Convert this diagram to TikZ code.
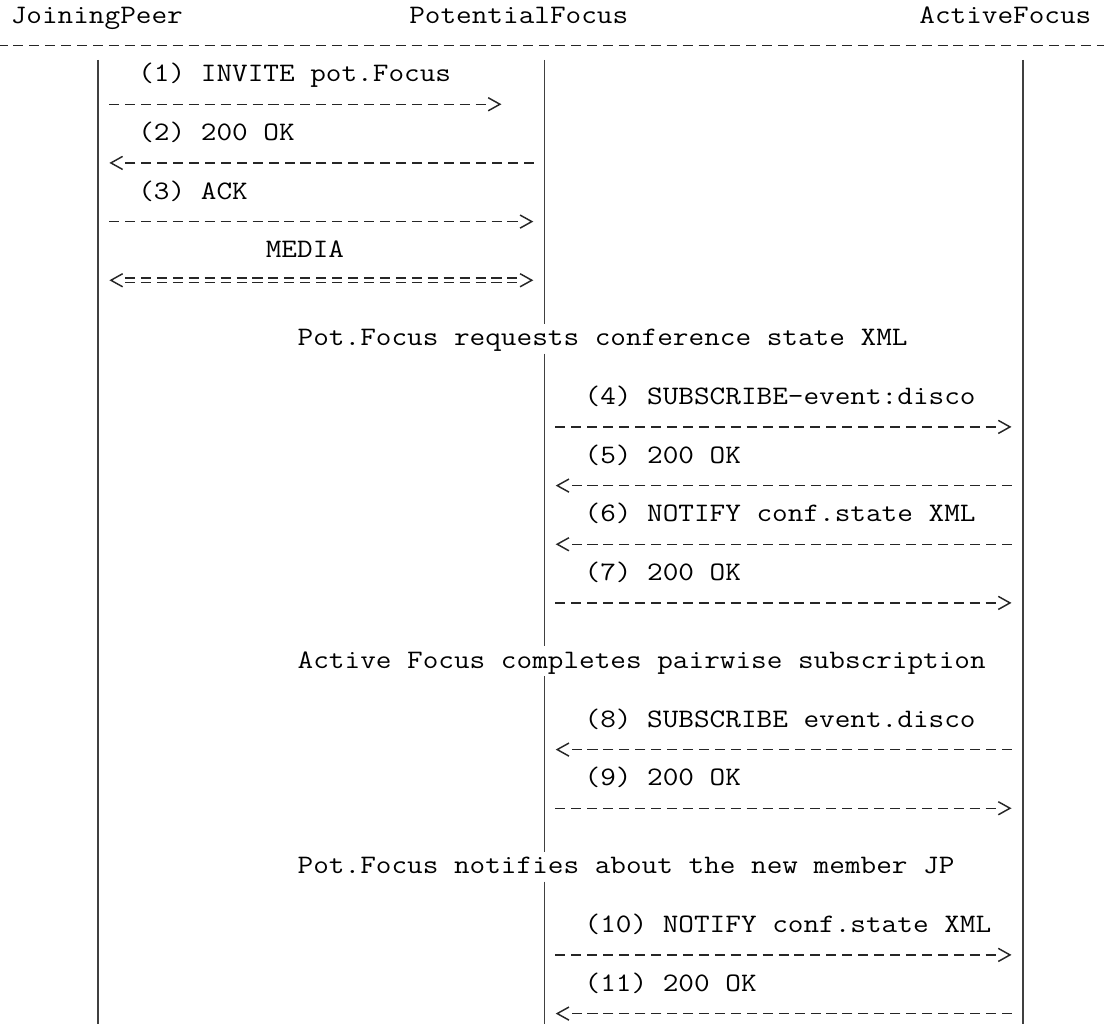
\documentclass[tikz,border=0pt]{standalone}
\usepackage{graphicx}
\usetikzlibrary{arrows.meta}

% typewriter text stretched to the courier pitch
\newcommand\tw[1]{\scalebox{1.1386}[1]{#1}}

\tikzset{
  txt/.style={font=\ttfamily\fontsize{20pt}{22pt}\selectfont, inner sep=0pt,
    anchor=base west, text height=16.3pt, text depth=5.7pt},
  life/.style={draw=black!75, line width=1.2pt},
  msg/.style={draw=black!85, line width=1.1pt, dash pattern=on 7.53pt off 4.42pt,
    shorten <=8.2pt, shorten >=20.1pt},
  chev/.style={draw=black!85, line width=1.1pt, dash pattern=on 0pt off 200pt,
    shorten >=8.4pt, -{Straight Barb[length=8.8pt,width=9.8pt]}},
}

\begin{document}
\begin{tikzpicture}[x=11.955pt, y=-22pt]
  \useasboundingbox (0.339,-0.044) rectangle (69.6,34.87);

  \node[txt] (jp) at (1,0.742) {\tw{JoiningPeer}};
  \node[txt] (pf) at (26,0.742) {\tw{PotentialFocus}};
  \node[txt] (af) at (58,0.742) {\tw{ActiveFocus}};
  \coordinate (sepl) at (0.18,1.5);
  \coordinate (sepr) at (69.81,1.5);
  \draw[msg, shorten <=0pt, shorten >=0pt] (sepl) -- (sepr);

  % lifelines
  \coordinate (jpl) at (6.5,2);
  \coordinate (pfl) at (34.5,2);
  \coordinate (afl) at (64.5,2);
  \coordinate (bot) at (0,34.87);

  \node[txt] (n1) at (19,11.742) {\tw{Pot.Focus requests conference state XML}};
  \node[txt] (n2) at (19,22.742) {\tw{Active Focus completes pairwise subscription}};
  \node[txt] (n3) at (19,29.742) {\tw{Pot.Focus notifies about the new member JP}};

  \draw[life] (jpl) -- (jpl |- bot);
  \draw[life] (afl) -- (afl |- bot);
  \draw[life] (pfl) -- (pfl |- n1.north);
  \draw[life] (pfl |- n1.south) -- (pfl |- n2.north);
  \draw[life] (pfl |- n2.south) -- (pfl |- n3.north);
  \draw[life] (pfl |- n3.south) -- (pfl |- bot);

  % call setup
  \node[txt] (m1) at (9,2.742) {\tw{(1) INVITE pot.Focus}};
  \node[txt] (m2) at (9,4.742) {\tw{(2) 200 OK}};
  \node[txt] (m3) at (9,6.742) {\tw{(3) ACK}};
  \node[txt] (md) at (17,8.742) {\tw{MEDIA}};
  \coordinate (a1) at ([yshift=-11pt]m1.south);
  \coordinate (a2) at ([yshift=-11pt]m2.south);
  \coordinate (a3) at ([yshift=-11pt]m3.south);
  \coordinate (ad) at ([yshift=-11pt]md.south);

  \draw[msg, shorten >=44.1pt] (jpl |- a1) -- (pfl |- a1);
  \draw[chev, shorten >=32.3pt] (jpl |- a1) -- (pfl |- a1);
  \draw[msg] (pfl |- a2) -- (jpl |- a2);
  \draw[chev] (pfl |- a2) -- (jpl |- a2);
  \draw[msg] (jpl |- a3) -- (pfl |- a3);
  \draw[chev] (jpl |- a3) -- (pfl |- a3);
  \draw[msg, shorten <=20.1pt, transform canvas={yshift=1.6pt}] (jpl |- ad) -- (pfl |- ad);
  \draw[msg, shorten <=20.1pt, transform canvas={yshift=-1.6pt}] (jpl |- ad) -- (pfl |- ad);
  \draw[chev, shorten <=8.4pt,
    {Straight Barb[length=8.8pt,width=9.8pt]}-{Straight Barb[length=8.8pt,width=9.8pt]}]
    (jpl |- ad) -- (pfl |- ad);

  % subscription to the active focus
  \node[txt] (m4) at (37,13.742) {\tw{(4) SUBSCRIBE-event:disco}};
  \node[txt] (m5) at (37,15.742) {\tw{(5) 200 OK}};
  \node[txt] (m6) at (37,17.742) {\tw{(6) NOTIFY conf.state XML}};
  \node[txt] (m7) at (37,19.742) {\tw{(7) 200 OK}};
  \coordinate (a4) at ([yshift=-11pt]m4.south);
  \coordinate (a5) at ([yshift=-11pt]m5.south);
  \coordinate (a6) at ([yshift=-11pt]m6.south);
  \coordinate (a7) at ([yshift=-11pt]m7.south);

  \draw[msg] (pfl |- a4) -- (afl |- a4);
  \draw[chev] (pfl |- a4) -- (afl |- a4);
  \draw[msg] (afl |- a5) -- (pfl |- a5);
  \draw[chev] (afl |- a5) -- (pfl |- a5);
  \draw[msg] (afl |- a6) -- (pfl |- a6);
  \draw[chev] (afl |- a6) -- (pfl |- a6);
  \draw[msg] (pfl |- a7) -- (afl |- a7);
  \draw[chev] (pfl |- a7) -- (afl |- a7);

  \node[txt] (m8) at (37,24.742) {\tw{(8) SUBSCRIBE event.disco}};
  \node[txt] (m9) at (37,26.742) {\tw{(9) 200 OK}};
  \coordinate (a8) at ([yshift=-11pt]m8.south);
  \coordinate (a9) at ([yshift=-11pt]m9.south);

  \draw[msg] (afl |- a8) -- (pfl |- a8);
  \draw[chev] (afl |- a8) -- (pfl |- a8);
  \draw[msg] (pfl |- a9) -- (afl |- a9);
  \draw[chev] (pfl |- a9) -- (afl |- a9);

  % new member
  \node[txt] (m10) at (37,31.742) {\tw{(10) NOTIFY conf.state XML}};
  \node[txt] (m11) at (37,33.742) {\tw{(11) 200 OK}};
  \coordinate (a10) at ([yshift=-11pt]m10.south);
  \coordinate (a11) at ([yshift=-11pt]m11.south);

  \draw[msg] (pfl |- a10) -- (afl |- a10);
  \draw[chev] (pfl |- a10) -- (afl |- a10);
  \draw[msg] (afl |- a11) -- (pfl |- a11);
  \draw[chev] (afl |- a11) -- (pfl |- a11);
\end{tikzpicture}
\end{document}
